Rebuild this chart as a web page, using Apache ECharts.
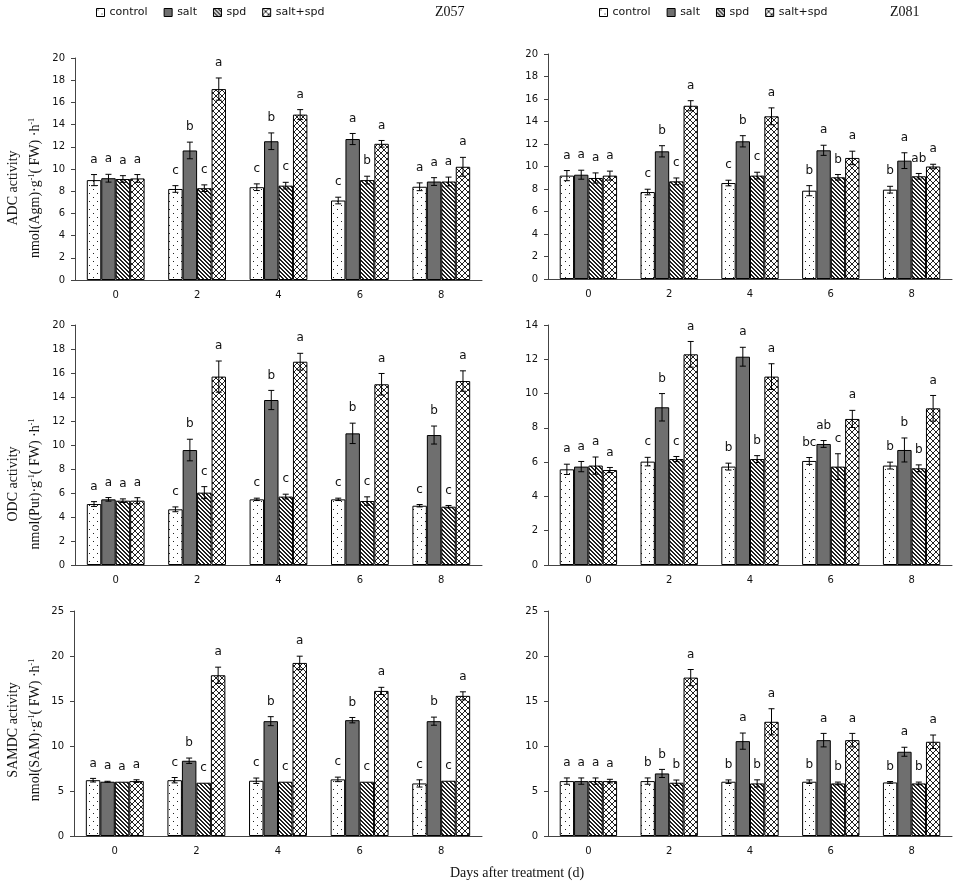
<!DOCTYPE html>
<html>
<head>
<meta charset="utf-8">
<script src="https://cdn.jsdelivr.net/npm/echarts@6/dist/echarts.min.js"></script>
<style>
  html, body { margin: 0; padding: 0; background: #fff; }
  #chart { width: 970px; height: 888px; }
</style>
</head>
<body>
<div id="chart"></div>
<script>
// categories and groups
var days = ['0', '2', '4', '6', '8'];
var groups = ['control', 'salt', 'spd', 'salt+spd'];

// rows: control, salt, spd, salt+spd ; columns: days
var adcZ057Mean = [[9.0, 8.2, 8.36, 7.16, 8.4], [9.17, 11.67, 12.5, 12.7, 8.87], [9.1, 8.27, 8.5, 9.0, 8.87], [9.15, 17.2, 14.9, 12.27, 10.2]];
var adcZ057Err = [[0.5, 0.3, 0.3, 0.3, 0.35], [0.35, 0.75, 0.75, 0.5, 0.35], [0.3, 0.3, 0.3, 0.35, 0.4], [0.35, 1.0, 0.45, 0.3, 0.85]];
var adcZ057Letters = [['a', 'c', 'c', 'c', 'a'], ['a', 'b', 'b', 'a', 'a'], ['a', 'c', 'c', 'b', 'a'], ['a', 'a', 'a', 'a', 'a']];

var adcZ081Mean = [[9.19, 7.73, 8.53, 7.85, 7.94], [9.27, 11.35, 12.24, 11.44, 10.52], [8.98, 8.68, 9.19, 9.04, 9.13], [9.19, 15.4, 14.46, 10.76, 10.0]];
var adcZ081Err = [[0.45, 0.25, 0.25, 0.45, 0.3], [0.4, 0.5, 0.5, 0.45, 0.7], [0.45, 0.3, 0.3, 0.25, 0.25], [0.4, 0.45, 0.75, 0.6, 0.2]];
var adcZ081Letters = [['a', 'c', 'c', 'b', 'b'], ['a', 'b', 'b', 'a', 'a'], ['a', 'c', 'c', 'b', 'ab'], ['a', 'a', 'a', 'a', 'a']];

var odcZ057Mean = [[5.08, 4.64, 5.47, 5.47, 4.94], [5.47, 9.58, 13.75, 10.97, 10.83], [5.36, 6.03, 5.7, 5.33, 4.86], [5.36, 15.7, 16.94, 15.06, 15.33]];
var odcZ057Err = [[0.2, 0.2, 0.1, 0.1, 0.1], [0.15, 0.9, 0.8, 0.85, 0.75], [0.15, 0.5, 0.2, 0.35, 0.1], [0.25, 1.3, 0.7, 0.9, 0.85]];
var odcZ057Letters = [['a', 'c', 'c', 'c', 'c'], ['a', 'b', 'b', 'b', 'b'], ['a', 'c', 'c', 'c', 'c'], ['a', 'a', 'a', 'a', 'a']];

var odcZ081Mean = [[5.58, 6.03, 5.74, 6.07, 5.8], [5.74, 9.2, 12.15, 7.06, 6.71], [5.8, 6.18, 6.18, 5.74, 5.64], [5.54, 12.29, 10.99, 8.52, 9.14]];
var odcZ081Err = [[0.3, 0.25, 0.2, 0.2, 0.2], [0.3, 0.8, 0.55, 0.2, 0.7], [0.5, 0.15, 0.2, 0.75, 0.2], [0.15, 0.75, 0.75, 0.5, 0.75]];
var odcZ081Letters = [['a', 'c', 'b', 'bc', 'b'], ['a', 'b', 'a', 'ab', 'b'], ['a', 'c', 'b', 'c', 'b'], ['a', 'a', 'a', 'a', 'a']];

var samdcZ057Mean = [[6.2, 6.2, 6.14, 6.29, 5.84], [6.03, 8.36, 12.76, 12.87, 12.76], [6.03, 5.92, 6.03, 6.03, 6.14], [6.1, 17.86, 19.23, 16.12, 15.57]];
var samdcZ057Err = [[0.2, 0.3, 0.3, 0.25, 0.4], [0.05, 0.3, 0.5, 0.3, 0.45], [0, 0, 0, 0, 0], [0.15, 0.9, 0.75, 0.4, 0.45]];
var samdcZ057Letters = [['a', 'c', 'c', 'c', 'c'], ['a', 'b', 'b', 'b', 'b'], ['a', 'c', 'c', 'c', 'c'], ['a', 'a', 'a', 'a', 'a']];

var samdcZ081Mean = [[6.1, 6.1, 6.03, 6.03, 5.95], [6.1, 6.95, 10.54, 10.65, 9.36], [6.1, 5.92, 5.84, 5.84, 5.84], [6.1, 17.6, 12.69, 10.65, 10.47]];
var samdcZ081Err = [[0.35, 0.35, 0.2, 0.2, 0.1], [0.35, 0.45, 0.9, 0.75, 0.5], [0.35, 0.3, 0.4, 0.15, 0.15], [0.2, 0.9, 1.45, 0.75, 0.75]];
var samdcZ081Letters = [['a', 'b', 'b', 'b', 'b'], ['a', 'b', 'a', 'a', 'a'], ['a', 'b', 'b', 'b', 'b'], ['a', 'a', 'a', 'a', 'a']];

var CAT_GAP = 0.29;

var panels = [
  { mean: adcZ057Mean, err: adcZ057Err, letters: adcZ057Letters, max: 20, step: 2, grid: { left: 75, top: 58, width: 407, height: 222 } },
  { mean: adcZ081Mean, err: adcZ081Err, letters: adcZ081Letters, max: 20, step: 2, grid: { left: 548, top: 54, width: 404, height: 225 } },
  { mean: odcZ057Mean, err: odcZ057Err, letters: odcZ057Letters, max: 20, step: 2, grid: { left: 75, top: 325, width: 407, height: 240 } },
  { mean: odcZ081Mean, err: odcZ081Err, letters: odcZ081Letters, max: 14, step: 2, grid: { left: 548, top: 325, width: 404, height: 240 } },
  { mean: samdcZ057Mean, err: samdcZ057Err, letters: samdcZ057Letters, max: 25, step: 5, grid: { left: 74, top: 611, width: 408, height: 225 } },
  { mean: samdcZ081Mean, err: samdcZ081Err, letters: samdcZ081Letters, max: 25, step: 5, grid: { left: 548, top: 611, width: 404, height: 225 } }
];

// bar fill patterns
function makePattern(kind) {
  var c = document.createElement('canvas');
  var n = kind === 'dots' ? 8 : (kind === 'hatch' ? 4 : 6);
  c.width = n; c.height = n;
  var ctx = c.getContext('2d');
  ctx.fillStyle = '#fff';
  ctx.fillRect(0, 0, n, n);
  ctx.fillStyle = '#222';
  if (kind === 'dots') {
    ctx.fillRect(1, 1, 1, 1);
    ctx.fillRect(5, 5, 1, 1);
  } else if (kind === 'hatch') {
    for (var i = 0; i < n; i++) {
      ctx.fillRect(i, i, 1, 1);
      ctx.fillRect((i + 1) % n, i, 1, 1);
    }
  } else {
    for (var j = 0; j < n; j++) {
      ctx.fillRect(j, j, 1, 1);
      ctx.fillRect(n - 1 - j, j, 1, 1);
    }
  }
  return { image: c, repeat: 'repeat' };
}
var fills = [makePattern('dots'), '#6f6f6f', makePattern('hatch'), makePattern('cross')];

var sans = 'DejaVu Sans';
var serif = 'Liberation Serif';

function errRenderer(p) {
  return function (params, api) {
    var cat = api.value(0), v = api.value(1), e = api.value(2), s = api.value(3);
    var band = api.size([1, 0])[0];
    var bw = band * (1 - CAT_GAP) / 4;
    var x = api.coord([cat, v])[0] + (s - 1.5) * bw;
    var yt = api.coord([cat, v + e])[1];
    var yb = api.coord([cat, v - e])[1];
    var children = [];
    var ls = { stroke: '#000', lineWidth: 1 };
    if (e > 0) {
      children.push({ type: 'line', shape: { x1: x, y1: yt, x2: x, y2: yb }, style: ls });
      children.push({ type: 'line', shape: { x1: x - 3, y1: yt, x2: x + 3, y2: yt }, style: ls });
      children.push({ type: 'line', shape: { x1: x - 3, y1: yb, x2: x + 3, y2: yb }, style: ls });
    }
    children.push({
      type: 'text',
      style: {
        text: p.letters[s][cat], x: x, y: yt - 15,
        align: 'center', verticalAlign: 'middle',
        fontSize: 12, fontFamily: sans, fill: '#111'
      }
    });
    return { type: 'group', children: children };
  };
}

var grids = [], xAxes = [], yAxes = [], series = [];
panels.forEach(function (p, k) {
  grids.push(p.grid);
  xAxes.push({
    type: 'category', gridIndex: k, data: days,
    axisLine: { lineStyle: { color: '#444' } },
    axisTick: { show: false },
    axisLabel: { fontSize: 10, fontFamily: sans, color: '#111', margin: 10 }
  });
  yAxes.push({
    type: 'value', gridIndex: k, min: 0, max: p.max, interval: p.step,
    axisLine: { show: true, lineStyle: { color: '#444' } },
    axisTick: { show: true, length: 4, lineStyle: { color: '#444' } },
    splitLine: { show: false },
    axisLabel: { fontSize: 10, fontFamily: sans, color: '#111', margin: 10 }
  });
  var errData = [];
  groups.forEach(function (g, s) {
    series.push({
      type: 'bar', name: g, xAxisIndex: k, yAxisIndex: k,
      data: p.mean[s],
      barGap: '0%', barCategoryGap: (CAT_GAP * 100) + '%',
      itemStyle: { color: fills[s], borderColor: '#000', borderWidth: 1 },
      silent: true, animation: false
    });
    p.mean[s].forEach(function (v, d) { errData.push([d, v, p.err[s][d], s]); });
  });
  series.push({
    type: 'custom', xAxisIndex: k, yAxisIndex: k, data: errData,
    renderItem: errRenderer(p), z: 5, clip: false, silent: true, animation: false
  });
});

function legend(left) {
  return {
    left: left, top: 7, padding: 0, itemWidth: 8, itemHeight: 8, itemGap: 16,
    icon: 'rect', data: groups, selectedMode: false,
    itemStyle: { borderColor: '#000', borderWidth: 1 },
    textStyle: { fontSize: 11, fontFamily: sans, color: '#111' }
  };
}

function yTitle(cy, name, unit) {
  var rich = {
    n: { fontSize: 14, fontFamily: serif, fill: '#111' },
    s: { fontSize: 8, fontFamily: serif, fill: '#111', verticalAlign: 'top' }
  };
  return [
    { type: 'text', x: 13, y: cy, rotation: Math.PI / 2,
      style: { text: name + ' activity', align: 'center', verticalAlign: 'middle', fontSize: 14, fontFamily: serif, fill: '#111' } },
    { type: 'text', x: 35, y: cy, rotation: Math.PI / 2,
      style: { text: '{n|nmol(' + unit + ')·g}{s|-1}{n|( FW) ·h}{s|-1}', rich: rich, align: 'center', verticalAlign: 'middle' } }
  ];
}

var graphics = [
  { type: 'text', x: 435, y: 5, style: { text: 'Z057', fontSize: 14, fontFamily: serif, fill: '#111' } },
  { type: 'text', x: 890, y: 5, style: { text: 'Z081', fontSize: 14, fontFamily: serif, fill: '#111' } },
  { type: 'text', x: 517, y: 873, style: { text: 'Days after treatment (d)', align: 'center', verticalAlign: 'middle', fontSize: 14, fontFamily: serif, fill: '#111' } }
].concat(yTitle(188, 'ADC', 'Agm'), yTitle(484, 'ODC', 'Put'), yTitle(730, 'SAMDC', 'SAM'));

var chart = echarts.init(document.getElementById('chart'));
chart.setOption({
  backgroundColor: '#fff',
  animation: false,
  legend: [legend(96), legend(599)],
  grid: grids,
  xAxis: xAxes,
  yAxis: yAxes,
  series: series,
  graphic: graphics
});
</script>
</body>
</html>
